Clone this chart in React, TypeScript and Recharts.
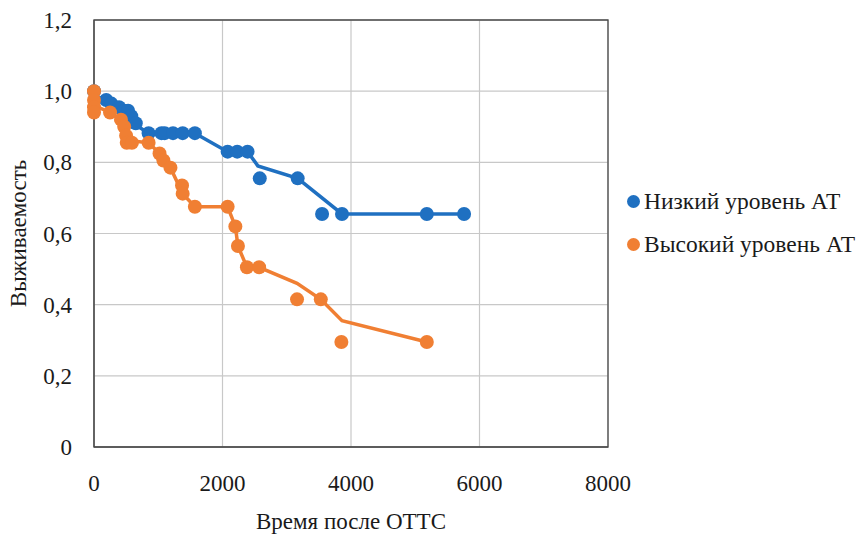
import { ComposedChart, Line, Scatter, XAxis, YAxis, CartesianGrid, Legend, ReferenceArea } from "recharts";

const lowX = [0, 190, 270, 390, 470, 530, 580, 650, 850, 1050, 1100, 1230, 1380, 1570, 2080, 2230, 2390, 2580, 3170, 3550, 3860, 5180, 5760];
const lowY = [1.0, 0.975, 0.965, 0.955, 0.945, 0.945, 0.93, 0.91, 0.882, 0.882, 0.882, 0.882, 0.882, 0.882, 0.83, 0.83, 0.83, 0.755, 0.755, 0.655, 0.655, 0.655, 0.655];
const lowLineX = [0, 270, 530, 650, 850, 1570, 2080, 2390, 2550, 3170, 3860, 5760];
const lowLineY = [0.99, 0.965, 0.945, 0.905, 0.882, 0.882, 0.83, 0.83, 0.79, 0.755, 0.655, 0.655];

const highX = [0, 0, 0, 0, 250, 420, 470, 500, 510, 590, 850, 1020, 1080, 1190, 1370, 1380, 1570, 2080, 2200, 2240, 2380, 2570, 3160, 3530, 3850, 5180];
const highY = [1.0, 0.975, 0.955, 0.94, 0.94, 0.92, 0.9, 0.875, 0.855, 0.855, 0.855, 0.825, 0.805, 0.785, 0.735, 0.712, 0.675, 0.675, 0.62, 0.565, 0.505, 0.505, 0.415, 0.415, 0.295, 0.295];
const highLineX = [0, 250, 420, 590, 850, 1020, 1190, 1380, 1570, 2080, 2200, 2240, 2380, 2570, 3160, 3530, 3860, 5180];
const highLineY = [0.96, 0.94, 0.92, 0.86, 0.855, 0.825, 0.785, 0.712, 0.675, 0.675, 0.62, 0.565, 0.505, 0.505, 0.46, 0.415, 0.355, 0.295];

const xTicks = [0, 2000, 4000, 6000, 8000];
const yTicks = [0, 0.2, 0.4, 0.6, 0.8, 1.0, 1.2];

const seriesNames = ["Низкий уровень АТ", "Высокий уровень АТ"];
const BLUE = "#1f70c1";
const ORANGE = "#f07f33";
const FONT = '"Liberation Serif"';
const TXT = "#1a1a1a";

const zip = (xs: number[], ys: number[]) => xs.map((x, i) => ({ x, y: ys[i] }));

const lowPts = zip(lowX, lowY);
const lowLine = zip(lowLineX, lowLineY);
const highPts = zip(highX, highY);
const highLine = zip(highLineX, highLineY);

const fmtY = (v: number) => (v === 0 ? "0" : v.toFixed(1).replace(".", ","));

const dot = (color: string) => (p: any) => <circle cx={p.cx} cy={p.cy} r={7} fill={color} />;

const tickX = (p: any) => (
  <text x={p.x} y={p.y} dy="0.71em" textAnchor="middle" fontFamily="Liberation Serif" fontSize={23} fill={TXT}>
    {p.payload.value}
  </text>
);
const tickY = (p: any) => (
  <text x={p.x} y={p.y} dy="0.35em" textAnchor="end" fontFamily="Liberation Serif" fontSize={23} fill={TXT}>
    {fmtY(p.payload.value)}
  </text>
);

function LegendBox() {
  const colors = [BLUE, ORANGE];
  return (
    <div style={{ fontFamily: FONT, fontSize: 23.5, color: TXT }}>
      {seriesNames.map((n, i) => (
        <div key={n} style={{ display: "flex", alignItems: "center", height: 43 }}>
          <span style={{ width: 13, height: 13, borderRadius: "50%", background: colors[i], marginRight: 4, display: "inline-block" }} />
          <span>{n}</span>
        </div>
      ))}
    </div>
  );
}

export default function App() {
  return (
    <div style={{ position: "absolute", left: 0, top: 0, background: "#fff", fontFamily: FONT }}>
      <ComposedChart width={864} height={534} margin={{ top: 20, right: 256, left: 0, bottom: 0 }}>
        <CartesianGrid stroke="#c8c8c8" strokeWidth={1.2} />
        <ReferenceArea x1={0} x2={8000} y1={0} y2={1.2} fill="none" stroke="#4a4a4a" strokeWidth={1.3} />
        <XAxis
          type="number"
          dataKey="x"
          domain={[0, 8000]}
          ticks={xTicks}
          tickLine={false}
          axisLine={{ stroke: "#4a4a4a" }}
          tickMargin={22}
          height={87}
          tick={tickX}
          label={{
            content: (p: any) => (
              <text x={p.viewBox.x + p.viewBox.width / 2} y={p.viewBox.y + 74} textAnchor="middle" dominantBaseline="central" fontFamily="Liberation Serif" fontSize={23} fill={TXT}>
                Время после ОТТС
              </text>
            ),
          }}
        />
        <YAxis
          type="number"
          dataKey="y"
          domain={[0, 1.2]}
          ticks={yTicks}
          tickLine={false}
          axisLine={{ stroke: "#4a4a4a" }}
          tickMargin={16}
          width={94}
          tick={tickY}
          label={{
            content: (p: any) => {
              const cy = p.viewBox.y + p.viewBox.height / 2;
              return (
                <text x={18} y={cy} transform={`rotate(-90, 18, ${cy})`} textAnchor="middle" dominantBaseline="central" fontFamily="Liberation Serif" fontSize={23} fill={TXT}>
                  Выживаемость
                </text>
              );
            },
          }}
        />
        <Legend
          layout="horizontal"
          verticalAlign="middle"
          align="center"
          content={<LegendBox />}
          wrapperStyle={{ left: 627, top: 180, width: 237 }}
        />
        <Line data={lowLine} dataKey="y" type="linear" stroke={BLUE} strokeWidth={3.5} dot={false} isAnimationActive={false} legendType="none" />
        <Line data={highLine} dataKey="y" type="linear" stroke={ORANGE} strokeWidth={3.5} dot={false} isAnimationActive={false} legendType="none" />
        <Scatter data={lowPts} dataKey="y" shape={dot(BLUE)} isAnimationActive={false} />
        <Scatter data={highPts} dataKey="y" shape={dot(ORANGE)} isAnimationActive={false} />
      </ComposedChart>
    </div>
  );
}
